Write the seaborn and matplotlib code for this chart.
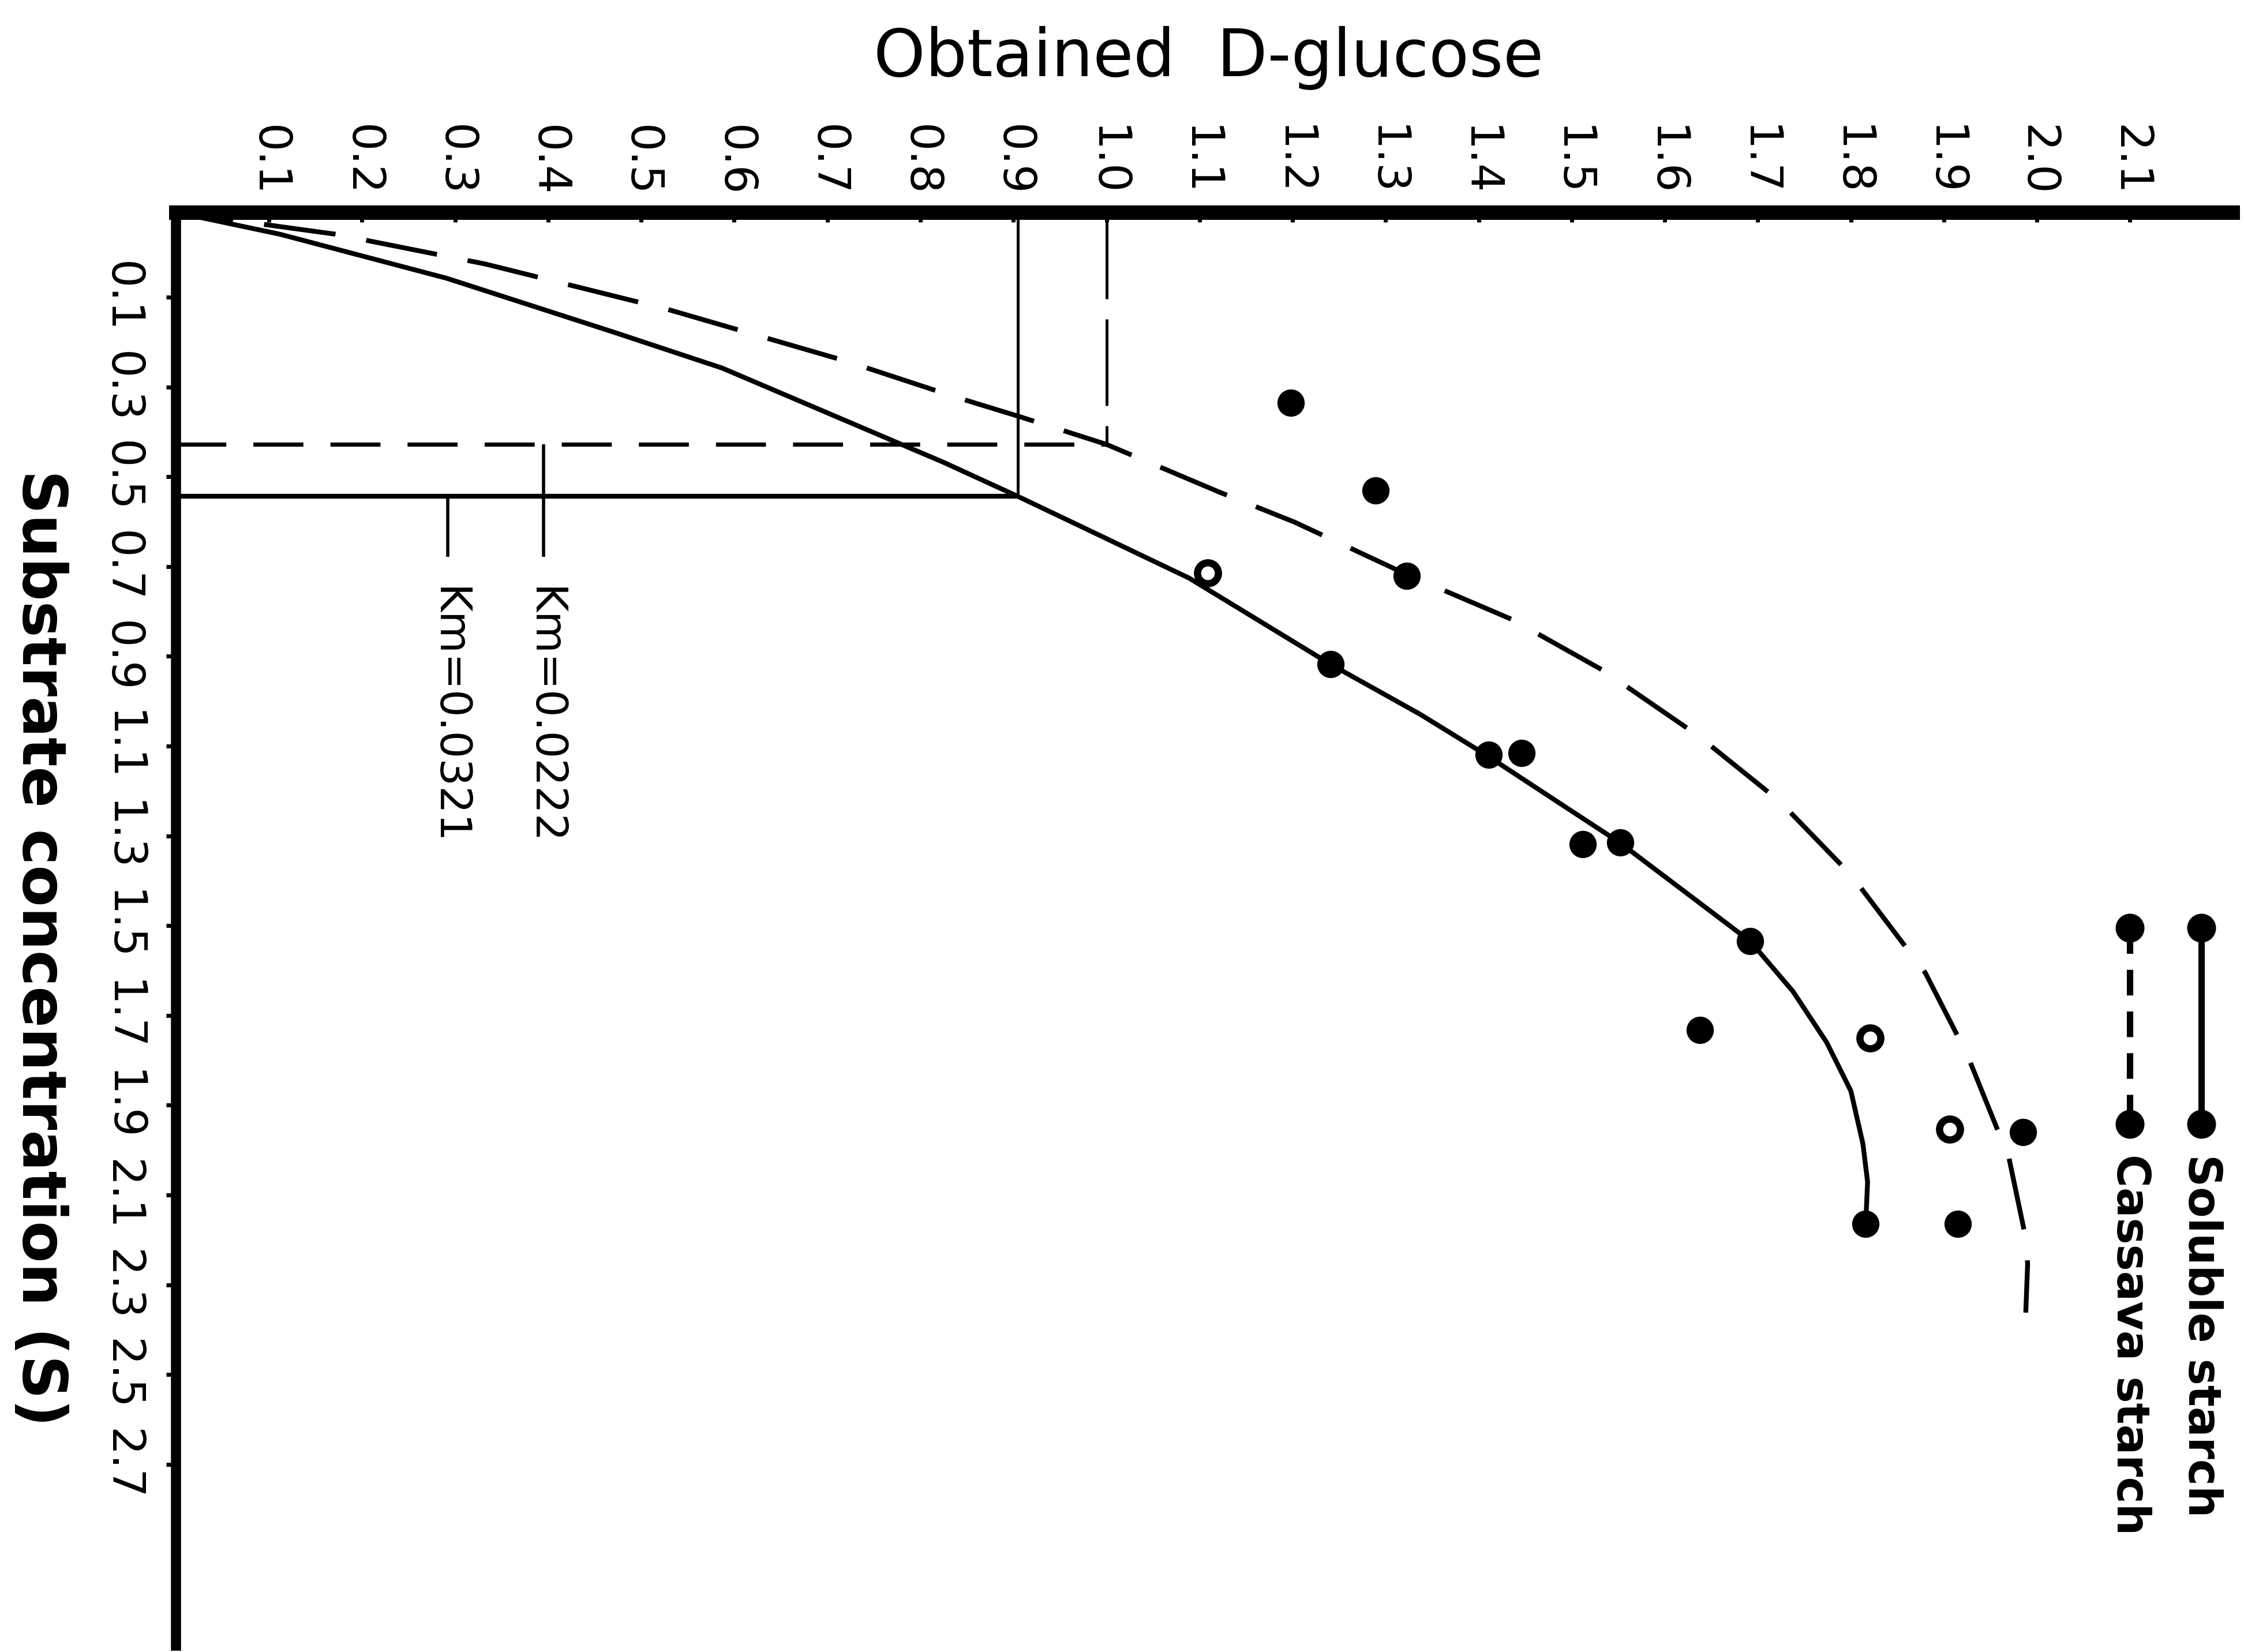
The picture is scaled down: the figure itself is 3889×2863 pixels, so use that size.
import matplotlib
matplotlib.use("Agg")
import matplotlib.pyplot as plt
import seaborn as sns
import pandas as pd

# ---------------- data ----------------
glucose_ticks = [0.1, 0.2, 0.3, 0.4, 0.5, 0.6, 0.7, 0.8, 0.9, 1.0, 1.1,
                 1.2, 1.3, 1.4, 1.5, 1.6, 1.7, 1.8, 1.9, 2.0, 2.1]
glucose_tick_labels = ["0.1", "0.2", "0.3", "0.4", "0.5", "0.6", "0.7", "0.8",
                       "0.9", "1.0", "1.1", "1.2", "1.3", "1.4", "1.5", "1.6",
                       "1.7", "1.8", "1.9", "2.0", "2.1"]
substrate_ticks = [0.1, 0.3, 0.5, 0.7, 0.9, 1.1, 1.3, 1.5, 1.7, 1.9, 2.1, 2.3, 2.5, 2.7]
substrate_tick_labels = ["0.1", "0.3", "0.5", "0.7", "0.9", "1.1", "1.3", "1.5",
                         "1.7", "1.9", "2.1", "2.3", "2.5", "2.7"]

# soluble starch fitted curve (solid)
soluble_glucose = [0.0, 0.112, 0.291, 0.469, 0.587, 0.706, 0.825, 0.905, 0.986,
                   1.089, 1.241, 1.337, 1.409, 1.492, 1.551, 1.620, 1.692, 1.738,
                   1.774, 1.800, 1.813, 1.818, 1.816]
soluble_substrate = [-0.089, -0.040, 0.058, 0.177, 0.258, 0.363, 0.468, 0.544, 0.624,
                     0.726, 0.918, 1.029, 1.121, 1.234, 1.314, 1.422, 1.535, 1.647,
                     1.760, 1.868, 1.986, 2.071, 2.164]

# cassava starch fitted curve (dashed)
cassava_glucose = [0.0, 0.172, 0.332, 0.528, 0.721, 0.837, 0.908, 1.0, 1.121, 1.202,
                   1.323, 1.437, 1.535, 1.636, 1.723, 1.801, 1.880, 1.925, 1.970,
                   1.988, 1.990, 1.988]
cassava_substrate = [-0.089, -0.040, 0.026, 0.127, 0.243, 0.322, 0.367, 0.428, 0.534,
                     0.601, 0.718, 0.819, 0.933, 1.077, 1.222, 1.389, 1.605, 1.787,
                     2.018, 2.196, 2.254, 2.362]

# observed points
filled_glucose = [1.198, 1.289, 1.323, 1.241, 1.411, 1.446, 1.512, 1.552, 1.692,
                  1.638, 1.985, 1.915, 1.816]
filled_substrate = [0.335, 0.531, 0.721, 0.918, 1.119, 1.116, 1.319, 1.315, 1.534,
                    1.733, 1.960, 2.164, 2.164]
open_glucose = [1.109, 1.821, 1.906]
open_substrate = [0.714, 1.750, 1.954]

# Km construction lines
km_soluble_glucose = 0.905
km_soluble_substrate = 0.544
km_cassava_glucose = 1.0
km_cassava_substrate = 0.428
km_tick_glucose = [0.292, 0.395]
km_tick_start = [0.544, 0.428]
km_tick_end = [0.679, 0.679]
km_labels = ["Km=0.0321", "Km=0.0222"]

legend_labels = ["Soluble starch", "Cassava starch"]

# ---------------- figure ----------------
sns.set_style("white")
plt.rcParams["font.family"] = ["DejaVu Sans"]
plt.rcParams["text.color"] = "black"
plt.rcParams["xtick.color"] = "black"
plt.rcParams["ytick.color"] = "black"
plt.rcParams["axes.labelcolor"] = "black"

fig = plt.figure(figsize=(19.445, 14.315), dpi=200)
ax = fig.add_axes([0.0784, 0.0038, 0.9164, 0.8677])

X_MIN, X_MAX = 0.0, 2.21
Y_TOP, Y_BOTTOM = -0.089, 3.104

sol = pd.DataFrame({"glucose": soluble_glucose, "substrate": soluble_substrate})
cas = pd.DataFrame({"glucose": cassava_glucose, "substrate": cassava_substrate})

sns.lineplot(data=sol, x="glucose", y="substrate", sort=False, estimator=None,
             color="black", linewidth=3.0, ax=ax)
ax.lines[-1].set_solid_joinstyle("round")
sns.lineplot(data=cas, x="glucose", y="substrate", sort=False, estimator=None,
             color="black", linewidth=3.0, ax=ax)
ax.lines[-1].set_linestyle((3, (15, 6.5)))
ax.lines[-1].set_dash_joinstyle("round")

# guide lines for Km
ax.plot([km_soluble_glucose, km_soluble_glucose], [Y_TOP, km_soluble_substrate],
        color="black", lw=1.8, solid_capstyle="butt")
ax.plot([X_MIN, km_soluble_glucose], [km_soluble_substrate, km_soluble_substrate],
        color="black", lw=3.0, solid_capstyle="butt")
ax.plot([km_cassava_glucose, km_cassava_glucose], [Y_TOP, km_cassava_substrate],
        color="black", lw=1.8, linestyle=(0, (30, 7)))
ax.plot([X_MIN, km_cassava_glucose], [km_cassava_substrate, km_cassava_substrate],
        color="black", lw=2.6, linestyle=(0, (12, 6.5)))
for g, s0, s1, lab in zip(km_tick_glucose, km_tick_start, km_tick_end, km_labels):
    ax.plot([g, g], [s0, s1], color="black", lw=2.0, solid_capstyle="butt")
    ax.text(g, 0.745, lab, rotation=-90, ha="center", va="top", fontsize=27)

# observed points
sns.scatterplot(x=filled_glucose, y=filled_substrate, s=290, color="black",
                edgecolor="black", linewidth=0, ax=ax, zorder=5)
sns.scatterplot(x=open_glucose, y=open_substrate, s=170, facecolor="white",
                edgecolor="black", linewidth=4.5, ax=ax, zorder=5)

# axes styling
ax.set_xlim(X_MIN, X_MAX)
ax.set_ylim(Y_BOTTOM, Y_TOP)
ax.xaxis.tick_top()
ax.set_xticks(glucose_ticks)
ax.set_xticklabels(glucose_tick_labels, rotation=-90, fontsize=28)
ax.set_yticks(substrate_ticks)
ax.set_yticklabels(substrate_tick_labels, rotation=-90, va="center", fontsize=28)
ax.tick_params(axis="x", which="both", top=True, bottom=False, direction="in",
               length=6, width=2.5, pad=10)
ax.tick_params(axis="y", which="both", left=True, right=False, direction="out",
               length=6, width=2.5, pad=14)
for side in ["right", "bottom"]:
    ax.spines[side].set_visible(False)
ax.spines["top"].set_linewidth(9)
ax.spines["left"].set_linewidth(6.3)
ax.spines["top"].set_color("black")
ax.spines["left"].set_color("black")
ax.set_xlabel("")
ax.set_ylabel("")
ax.grid(False)

# axis titles
fig.text(0.5387, 0.954, "Obtained  D-glucose", ha="center", va="baseline", fontsize=41)
fig.text(0.0175, 0.426, "Substrate concentration (S)", ha="center", va="center",
         rotation=-90, fontsize=38, fontweight="bold")

# legend (rotated, drawn manually)
leg_x = [0.985, 0.950]
leg_styles = ["-", (0, (4, 2.5))]
for lx, ls, lab in zip(leg_x, leg_styles, legend_labels):
    ax.plot([lx, lx], [0.501, 0.364], transform=ax.transAxes, color="black",
            lw=4, linestyle=ls, clip_on=False)
    ax.plot([lx, lx], [0.501, 0.364], transform=ax.transAxes, color="black",
            lw=0, marker="o", markersize=17, clip_on=False)
    ax.text(lx, 0.343, lab, transform=ax.transAxes, rotation=-90, ha="center",
            va="top", fontsize=28, fontweight="bold")

fig.savefig("out.png", dpi=200, facecolor="white")
